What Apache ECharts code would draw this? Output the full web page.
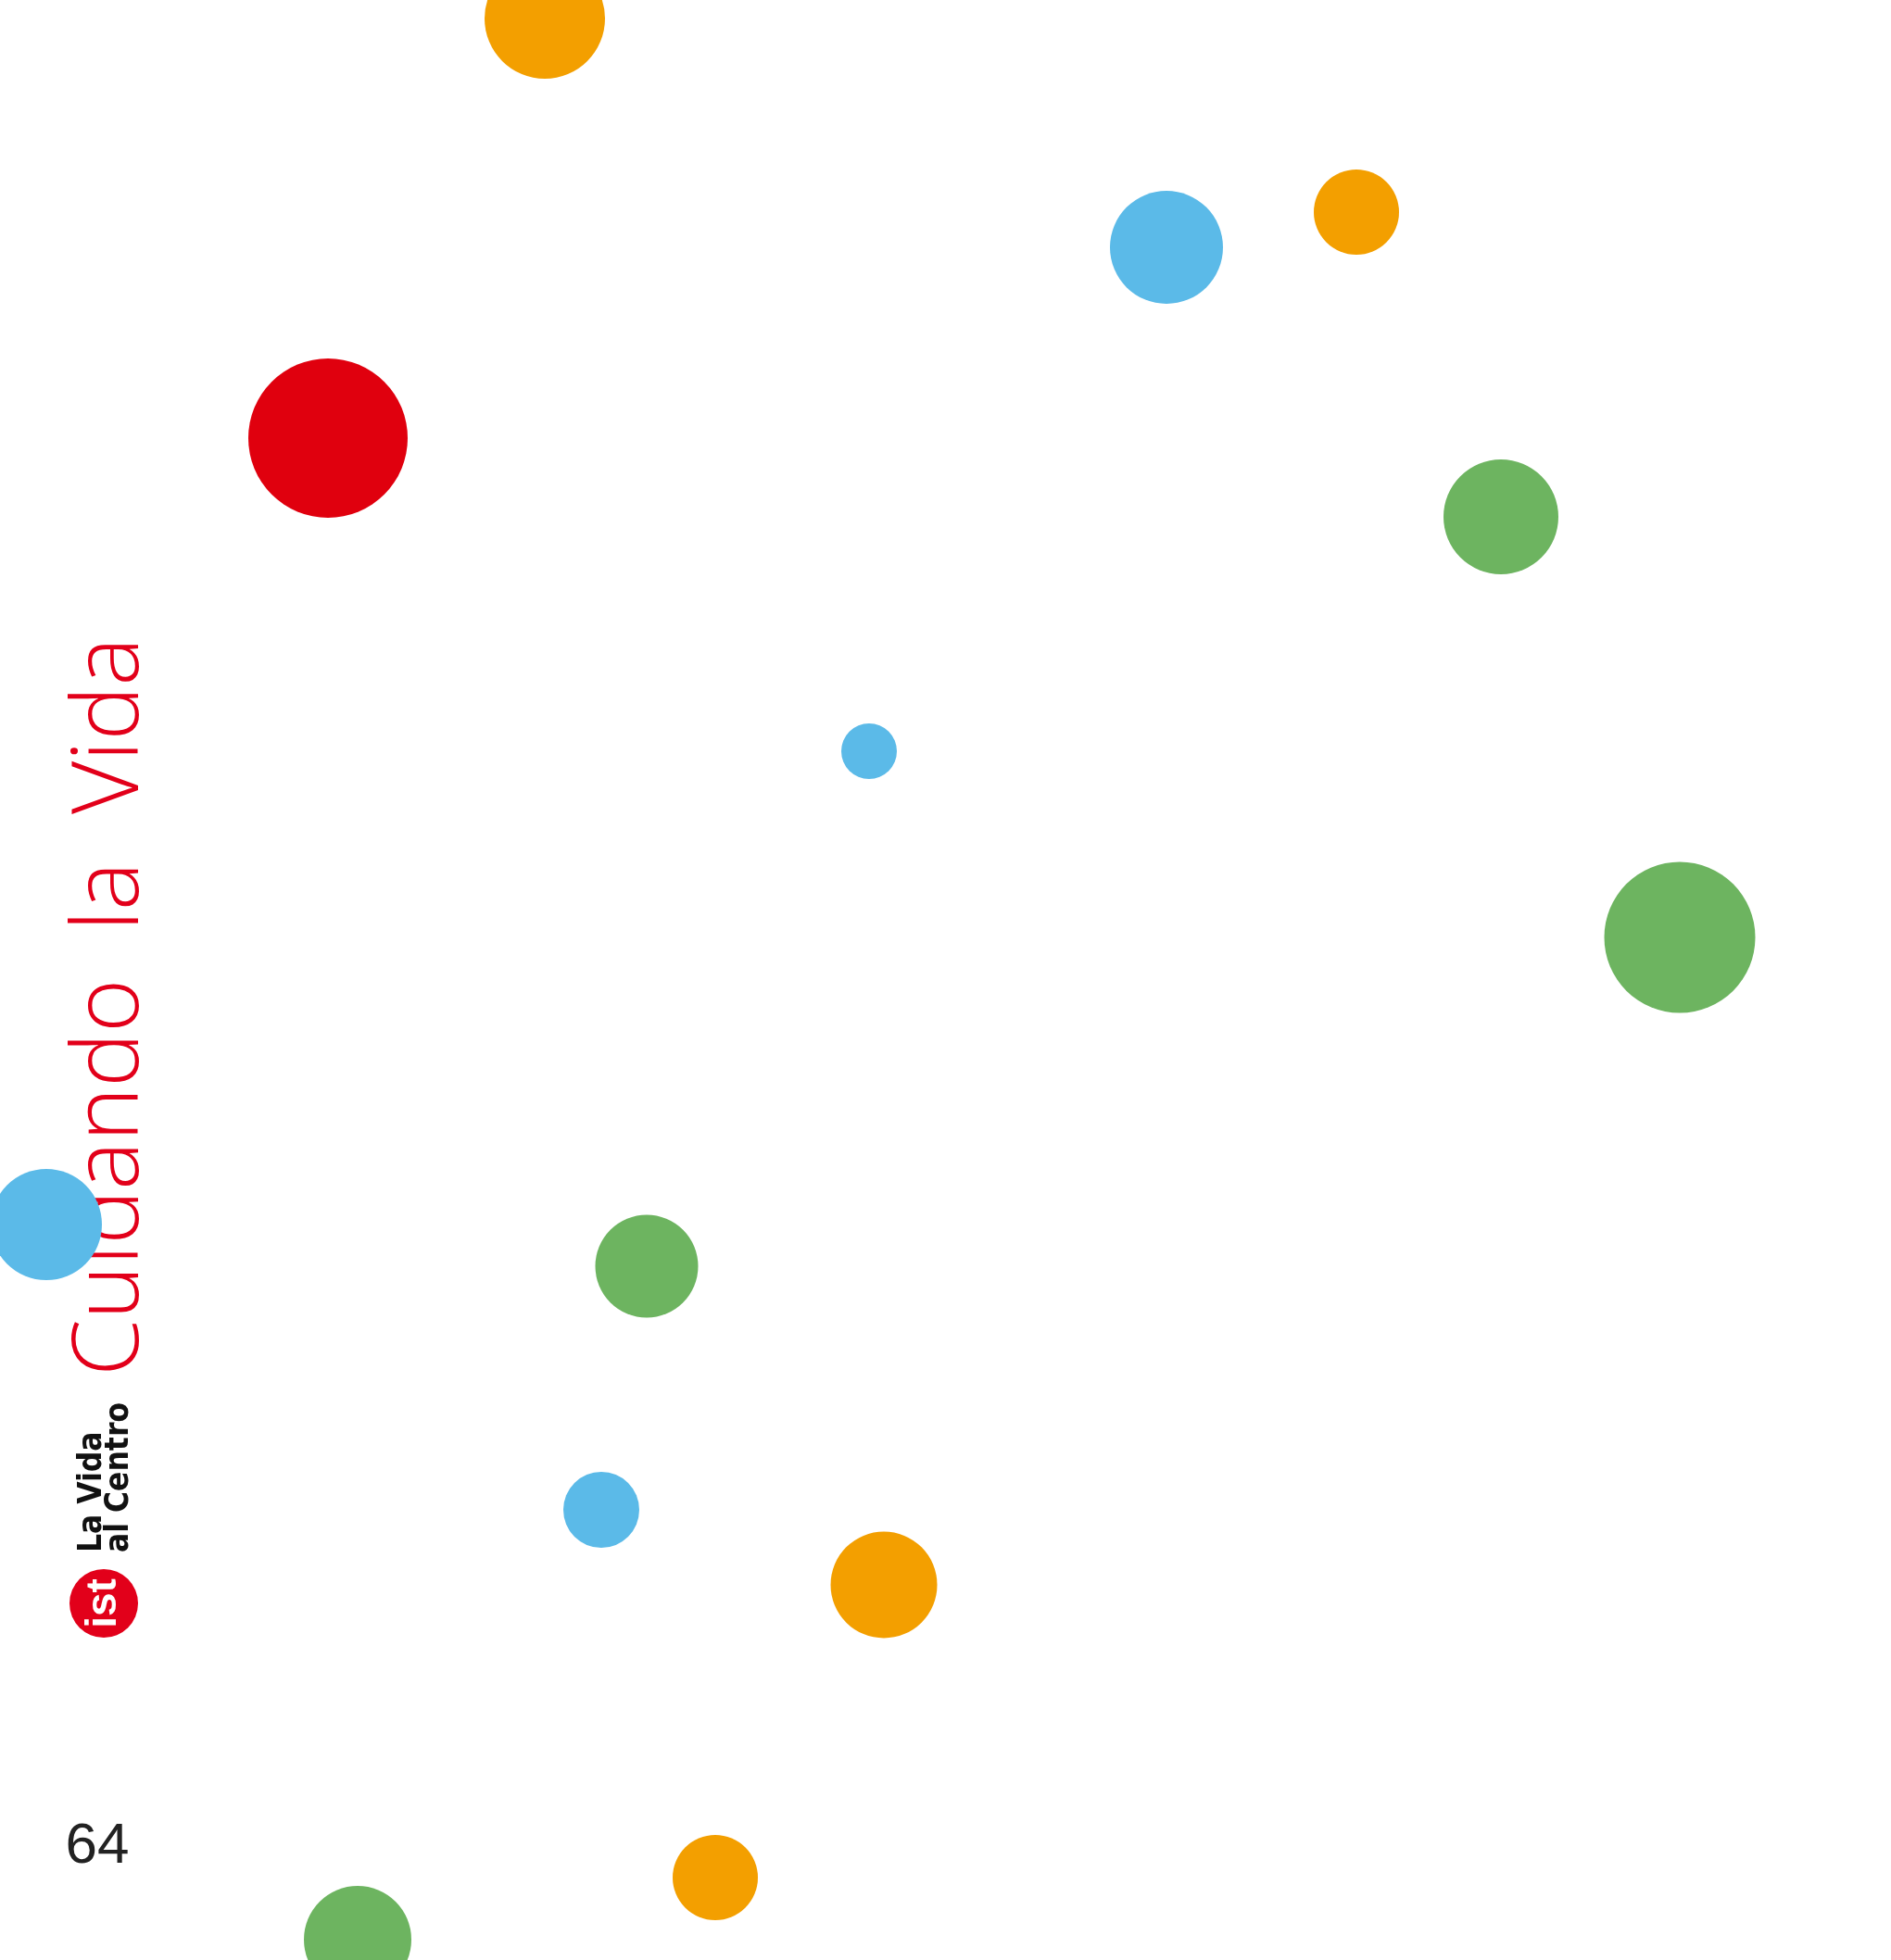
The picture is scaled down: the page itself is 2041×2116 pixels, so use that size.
<!DOCTYPE html>
<html>
<head>
<meta charset="utf-8">
<script src="https://cdn.jsdelivr.net/npm/echarts@6/dist/echarts.min.js"></script>
<style>
html,body{margin:0;padding:0;background:#fff;}
#chart{width:2041px;height:2116px;}
</style>
</head>
<body>
<div id="chart"></div>
<script>
// Dot positions (page units) and diameters
const orangeX = [588, 1464, 954, 772];
const orangeY = [20, 229, 1711, 2027];
const orangeSize = [130, 92, 115, 92];

const blueX = [1259, 938, 50, 649];
const blueY = [267, 811, 1322, 1630];
const blueSize = [122, 60, 120, 82];

const greenX = [1620, 1813, 698, 386];
const greenY = [558, 1012, 1367, 2094];
const greenSize = [124, 163, 111, 116];

const redX = [354];
const redY = [473];
const redSize = [172];

const titleText = 'Cuidando  la  Vida';
const logoLine1 = 'La Vida';
const logoLine2 = 'al Centro';
const logoMark = 'ist';
const pageNumber = '64';

function pts(xs, ys, ss) {
  return xs.map((x, i) => [x, ys[i], ss[i]]);
}

const chart = echarts.init(document.getElementById('chart'), null, {renderer: 'canvas'});

function dotSeries(name, xs, ys, ss, color) {
  return {
    name: name,
    type: 'scatter',
    data: pts(xs, ys, ss),
    symbol: 'circle',
    symbolSize: function (v) { return v[2]; },
    itemStyle: {color: color, opacity: 1},
    clip: false,
    silent: true,
    z: 10
  };
}

chart.setOption({
  backgroundColor: '#ffffff',
  animation: false,
  grid: {left: 0, right: 0, top: 0, bottom: 0},
  xAxis: {type: 'value', min: 0, max: 2041, show: false},
  yAxis: {type: 'value', min: 0, max: 2116, inverse: true, show: false},
  series: [
    dotSeries('orange', orangeX, orangeY, orangeSize, '#F39F00'),
    dotSeries('blue', blueX, blueY, blueSize, '#5BBAE8'),
    dotSeries('green', greenX, greenY, greenSize, '#6DB460'),
    dotSeries('red', redX, redY, redSize, '#E0000E')
  ],
  graphic: [
    {
      type: 'text',
      x: 121, y: 1087,
      rotation: Math.PI / 2,
      z: 1,
      style: {
        text: titleText,
        fill: '#E2001A',
        font: '300 99px "Open Sans", "Liberation Sans", sans-serif',
        align: 'center',
        verticalAlign: 'middle'
      }
    },
    {
      type: 'circle',
      z: 1,
      shape: {cx: 112, cy: 1731, r: 37},
      style: {fill: '#E2001A'}
    },
    {
      type: 'text',
      x: 112, y: 1731,
      rotation: Math.PI / 2,
      z: 2,
      style: {
        text: logoMark,
        fill: '#ffffff',
        font: 'bold 46px "Liberation Sans", Arial, sans-serif',
        align: 'center',
        verticalAlign: 'middle'
      }
    },
    {
      type: 'text',
      x: 100, y: 1676,
      rotation: Math.PI / 2,
      z: 1,
      style: {
        text: logoLine1,
        fill: '#111111',
        font: 'bold 35px "Liberation Sans Narrow", "DejaVu Sans Condensed", sans-serif',
        align: 'left',
        verticalAlign: 'middle'
      }
    },
    {
      type: 'text',
      x: 129, y: 1676,
      rotation: Math.PI / 2,
      z: 1,
      style: {
        text: logoLine2,
        fill: '#111111',
        font: 'bold 35px "Liberation Sans Narrow", "DejaVu Sans Condensed", sans-serif',
        align: 'left',
        verticalAlign: 'middle'
      }
    },
    {
      type: 'text',
      x: 105, y: 1994,
      z: 1,
      style: {
        text: pageNumber,
        fill: '#222222',
        font: '62px "Liberation Sans", "DejaVu Sans", sans-serif',
        align: 'center',
        verticalAlign: 'middle'
      }
    }
  ]
});
</script>
</body>
</html>
